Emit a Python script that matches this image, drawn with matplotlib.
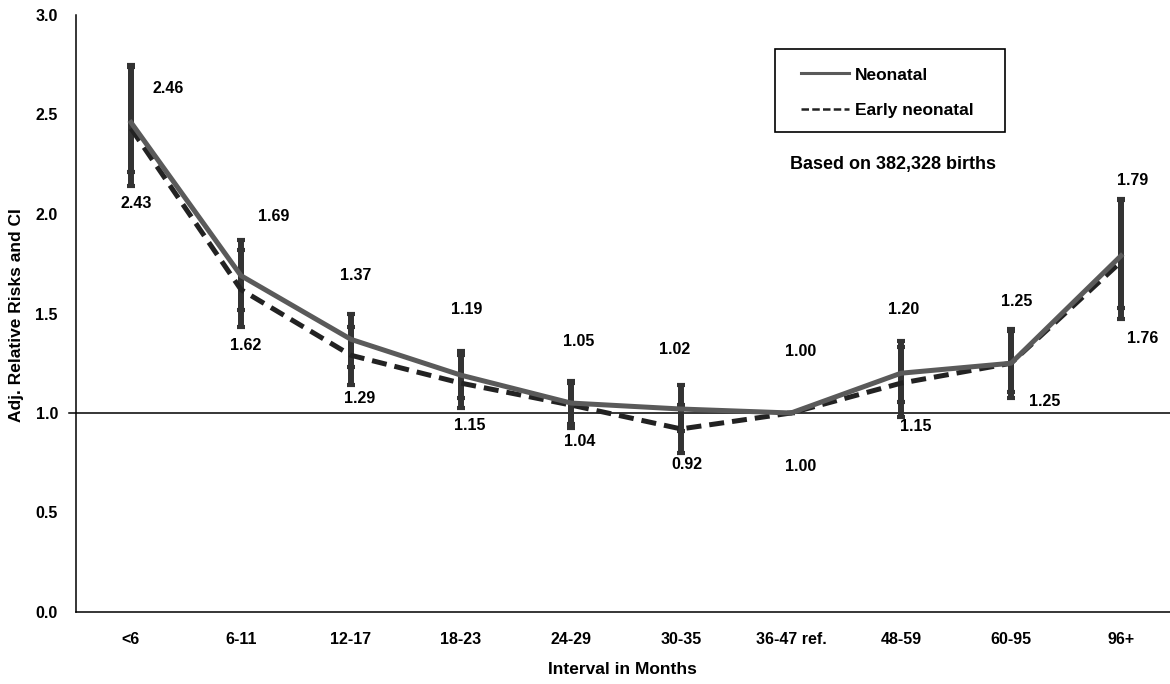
import matplotlib.pyplot as plt
from matplotlib.lines import Line2D
from matplotlib.patches import Rectangle

plt.rcParams['font.family'] = ['Liberation Sans', 'DejaVu Sans']
plt.rcParams['font.weight'] = 'bold'

categories = ['<6', '6-11', '12-17', '18-23', '24-29', '30-35', '36-47 ref.', '48-59', '60-95', '96+']
neonatal = [2.46, 1.69, 1.37, 1.19, 1.05, 1.02, 1.00, 1.20, 1.25, 1.79]
neo_lo = [2.21, 1.52, 1.23, 1.075, 0.945, 0.91, 1.00, 1.055, 1.105, 1.53]
neo_hi = [2.75, 1.87, 1.50, 1.31, 1.16, 1.14, 1.00, 1.36, 1.42, 2.075]
early = [2.43, 1.62, 1.29, 1.15, 1.04, 0.92, 1.00, 1.15, 1.25, 1.76]
early_lo = [2.14, 1.43, 1.14, 1.025, 0.925, 0.80, 1.00, 0.98, 1.075, 1.47]
early_hi = [2.74, 1.82, 1.43, 1.29, 1.15, 1.04, 1.00, 1.33, 1.41, 2.07]

# where the value labels sit (x shift in categories, y in data units)
neo_lab_dx = [0.34, 0.30, 0.04, 0.05, 0.07, -0.06, 0.09, 0.02, 0.05, 0.11]
neo_lab_y = [2.63, 1.985, 1.69, 1.52, 1.36, 1.32, 1.31, 1.52, 1.56, 2.17]
early_lab_dx = [0.05, 0.04, 0.08, 0.08, 0.08, 0.05, 0.09, 0.13, 0.31, 0.20]
early_lab_y = [2.055, 1.34, 1.075, 0.935, 0.855, 0.74, 0.73, 0.93, 1.06, 1.375]

W, H = 1170, 684
fig = plt.figure(figsize=(W / 100, H / 100), dpi=100)
ax = fig.add_axes([76 / W, 72 / H, 1100 / W, 597 / H])

x = list(range(len(categories)))
err_col = '#333333'

ax.axhline(1.0, xmin=-0.006, xmax=1, color='black', lw=1.1, clip_on=False, zorder=1)

ax.errorbar(x, neonatal, yerr=[[n - l for n, l in zip(neonatal, neo_lo)], [h - n for n, h in zip(neonatal, neo_hi)]],
            fmt='none', ecolor=err_col, elinewidth=4.3, capsize=2.9, capthick=3, zorder=2)
ax.errorbar(x, early, yerr=[[e - l for e, l in zip(early, early_lo)], [h - e for e, h in zip(early, early_hi)]],
            fmt='none', ecolor=err_col, elinewidth=4.3, capsize=2.9, capthick=3, zorder=2)

ax.plot(x, early, color='#222222', lw=3.6, ls=(0, (3, 1.6)), zorder=3)
ax.plot(x, neonatal, color='#5a5a5a', lw=3.6, zorder=4)

for i in x:
    ax.text(i + neo_lab_dx[i], neo_lab_y[i], f'{neonatal[i]:.2f}', ha='center', va='center', fontsize=11.5, fontweight='bold')
    ax.text(i + early_lab_dx[i], early_lab_y[i], f'{early[i]:.2f}', ha='center', va='center', fontsize=11.5, fontweight='bold')

fig.text(893 / W, 1 - 164 / H, 'Based on 382,328 births', ha='center', va='center', fontsize=13, fontweight='bold')

# legend: frameless entries inside a hand-placed box
handles = [Line2D([], [], color='#5a5a5a', lw=2.2), Line2D([], [], color='#222222', lw=1.8, ls=(0, (3, 1.3)))]
leg = ax.legend(handles, ['Neonatal', 'Early neonatal'], loc='center left',
                bbox_to_anchor=(801 / W, 1 - 92.5 / H), bbox_transform=fig.transFigure,
                frameon=False, fontsize=12.5, handlelength=2.75, labelspacing=1.15,
                borderpad=0, borderaxespad=0, handletextpad=0.35)
for t in leg.get_texts():
    t.set_fontweight('bold')
fig.add_artist(Rectangle((775 / W, 1 - 132 / H), 230 / W, 83 / H, transform=fig.transFigure,
                         fill=False, edgecolor='black', lw=1.2))

ax.set_xlim(-0.5, len(categories) - 0.5)
ax.set_ylim(0, 3.0)
ax.set_xticks(x)
ax.set_xticklabels(categories, fontsize=11.5, fontweight='bold')
ax.set_yticks([0, 0.5, 1.0, 1.5, 2.0, 2.5, 3.0])
ax.set_yticklabels(['0.0', '0.5', '1.0', '1.5', '2.0', '2.5', '3.0'], fontsize=11.5, fontweight='bold')
ax.tick_params(length=0)
ax.tick_params(axis='x', pad=14.5)
ax.tick_params(axis='y', pad=13)
ax.spines['top'].set_visible(False)
ax.spines['right'].set_visible(False)
ax.spines['left'].set_linewidth(1.1)
ax.spines['bottom'].set_linewidth(1.1)

fig.text(622 / W, 1 - 670 / H, 'Interval in Months', ha='center', va='center', fontsize=12.5, fontweight='bold')
fig.text(17 / W, 1 - 315 / H, 'Adj. Relative Risks and CI', ha='center', va='center', rotation=90,
         fontsize=12.5, fontweight='bold')

fig.savefig('out.png', dpi=100)
